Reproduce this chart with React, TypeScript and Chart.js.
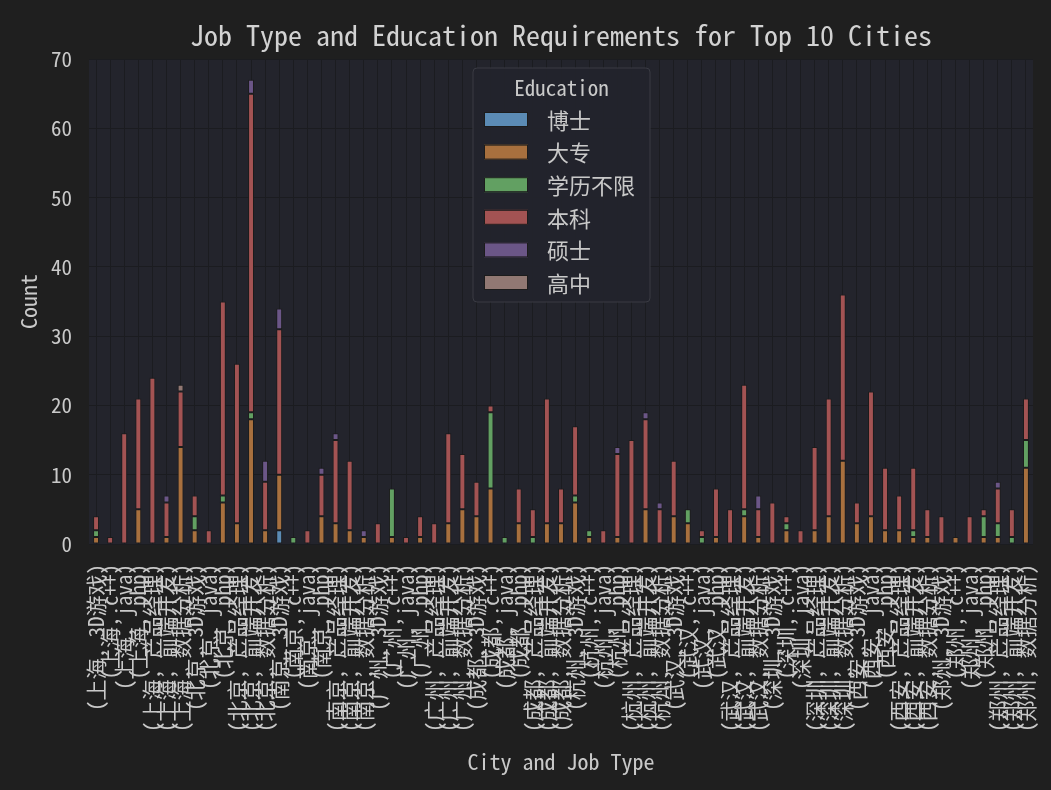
import React, { useEffect, useRef } from 'react';
import { Chart, registerables } from 'chart.js';

Chart.register(...registerables);

const FONT = "'Noto Sans Mono CJK SC', 'DejaVu Sans Mono', monospace";
const TEXT = '#c9c9c9';
const GRID = '#1b1c20';
const PAGE_BG = '#1f1f1f';
const PLOT_BG = '#23242c';

// (city, job type) pairs, 67 bars
const categories = [
  '(上海, 3D游戏)', '(上海, c++)', '(上海, java)', '(上海, php)', '(上海, 产品经理)', '(上海, 前端开发)', '(上海, 数据分析)',
  '(北京, 3D游戏)', '(北京, java)', '(北京, php)', '(北京, 产品经理)', '(北京, 前端开发)', '(北京, 数据分析)',
  '(南京, 3D游戏)', '(南京, c++)', '(南京, java)', '(南京, php)', '(南京, 产品经理)', '(南京, 前端开发)', '(南京, 数据分析)',
  '(广州, 3D游戏)', '(广州, c++)', '(广州, java)', '(广州, php)', '(广州, 产品经理)', '(广州, 前端开发)', '(广州, 数据分析)',
  '(成都, 3D游戏)', '(成都, c++)', '(成都, java)', '(成都, php)', '(成都, 产品经理)', '(成都, 前端开发)', '(成都, 数据分析)',
  '(杭州, 3D游戏)', '(杭州, c++)', '(杭州, java)', '(杭州, php)', '(杭州, 产品经理)', '(杭州, 前端开发)', '(杭州, 数据分析)',
  '(武汉, 3D游戏)', '(武汉, c++)', '(武汉, java)', '(武汉, php)', '(武汉, 产品经理)', '(武汉, 前端开发)', '(武汉, 数据分析)',
  '(深圳, 3D游戏)', '(深圳, c++)', '(深圳, java)', '(深圳, 产品经理)', '(深圳, 前端开发)', '(深圳, 数据分析)',
  '(西安, 3D游戏)', '(西安, java)', '(西安, php)', '(西安, 产品经理)', '(西安, 前端开发)', '(西安, 数据分析)',
  '(郑州, 3D游戏)', '(郑州, c++)', '(郑州, java)', '(郑州, php)', '(郑州, 产品经理)', '(郑州, 前端开发)', '(郑州, 数据分析)',
];

const educationLevels = ['博士', '大专', '学历不限', '本科', '硕士', '高中'];
const educationColors = ['#5b8bb5', '#a8703e', '#62a062', '#a35353', '#6b5687', '#917873'];

const doctor = [
  0, 0, 0, 0, 0, 0, 0,  0, 0, 0, 0, 0, 0,  2, 0, 0, 0, 0, 0, 0,  0, 0, 0, 0, 0, 0, 0,
  0, 0, 0, 0, 0, 0, 0,  0, 0, 0, 0, 0, 0, 0,  0, 0, 0, 0, 0, 0, 0,  0, 0, 0, 0, 0, 0,
  0, 0, 0, 0, 0, 0,  0, 0, 0, 0, 0, 0, 0,
];
const college = [
  1, 0, 0, 5, 0, 1, 14,  2, 0, 6, 3, 18, 2,  8, 0, 0, 4, 3, 2, 1,  0, 1, 0, 1, 0, 3, 5,
  4, 8, 0, 3, 0, 3, 3,  6, 1, 0, 1, 0, 5, 0,  4, 3, 0, 1, 0, 4, 1,  0, 2, 0, 2, 4, 12,
  3, 4, 2, 2, 1, 1,  0, 1, 0, 1, 1, 0, 11,
];
const anyDegree = [
  1, 0, 0, 0, 0, 0, 0,  2, 0, 1, 0, 1, 0,  0, 1, 0, 0, 0, 0, 0,  0, 7, 0, 0, 0, 0, 0,
  0, 11, 1, 0, 1, 0, 0,  1, 1, 0, 0, 0, 0, 0,  0, 2, 1, 0, 0, 1, 0,  0, 1, 0, 0, 0, 0,
  0, 0, 0, 0, 1, 0,  0, 0, 0, 3, 2, 1, 4,
];
const bachelor = [
  2, 1, 16, 16, 24, 5, 8,  3, 2, 28, 23, 46, 7,  21, 0, 2, 6, 12, 10, 0,  3, 0, 1, 3, 3, 13, 8,
  5, 1, 0, 5, 4, 18, 5,  10, 0, 2, 12, 15, 13, 5,  8, 0, 1, 7, 5, 18, 4,  6, 1, 2, 12, 17, 24,
  3, 18, 9, 5, 9, 4,  4, 0, 4, 1, 5, 4, 6,
];
const master = [
  0, 0, 0, 0, 0, 1, 0,  0, 0, 0, 0, 2, 3,  3, 0, 0, 1, 1, 0, 1,  0, 0, 0, 0, 0, 0, 0,
  0, 0, 0, 0, 0, 0, 0,  0, 0, 0, 1, 0, 1, 1,  0, 0, 0, 0, 0, 0, 2,  0, 0, 0, 0, 0, 0,
  0, 0, 0, 0, 0, 0,  0, 0, 0, 0, 1, 0, 0,
];
const highSchool = [
  0, 0, 0, 0, 0, 0, 1,  0, 0, 0, 0, 0, 0,  0, 0, 0, 0, 0, 0, 0,  0, 0, 0, 0, 0, 0, 0,
  0, 0, 0, 0, 0, 0, 0,  0, 0, 0, 0, 0, 0, 0,  0, 0, 0, 0, 0, 0, 0,  0, 0, 0, 0, 0, 0,
  0, 0, 0, 0, 0, 0,  0, 0, 0, 0, 0, 0, 0,
];
const seriesValues = [doctor, college, anyDegree, bachelor, master, highSchool];

const yTicks = [0, 10, 20, 30, 40, 50, 60, 70];

// background, title and the boxed legend
const decorPlugin = {
  id: 'decor',
  beforeDraw(chart: Chart) {
    const { ctx, chartArea } = chart;
    ctx.save();
    ctx.fillStyle = PAGE_BG;
    ctx.fillRect(0, 0, chart.width, chart.height);
    ctx.fillStyle = PLOT_BG;
    ctx.fillRect(chartArea.left, chartArea.top, chartArea.right - chartArea.left, chartArea.bottom - chartArea.top);
    ctx.restore();
  },
  afterDraw(chart: Chart) {
    const { ctx, chartArea } = chart;
    const cx = (chartArea.left + chartArea.right) / 2;
    ctx.save();
    ctx.fillStyle = '#d2d2d2';
    ctx.font = `28px ${FONT}`;
    ctx.textAlign = 'center';
    ctx.textBaseline = 'middle';
    ctx.fillText('Job Type and Education Requirements for Top 10 Cities', cx, 35);

    // legend box
    const bx = 473, by = 68, bw = 177, bh = 234;
    ctx.beginPath();
    ctx.roundRect(bx, by, bw, bh, 4);
    ctx.fillStyle = 'rgba(35, 36, 44, 0.92)';
    ctx.fill();
    ctx.strokeStyle = '#3a3b43';
    ctx.lineWidth = 1;
    ctx.stroke();

    ctx.fillStyle = TEXT;
    ctx.font = `21px ${FONT}`;
    ctx.textAlign = 'center';
    ctx.fillText('Education', bx + bw / 2, 88);

    ctx.textAlign = 'left';
    ctx.font = `22px ${FONT}`;
    educationLevels.forEach((name, i) => {
      const y = 119.5 + i * 32.6;
      ctx.fillStyle = educationColors[i];
      ctx.fillRect(484, y - 7.5, 44, 15);
      ctx.strokeStyle = '#1c1c1c';
      ctx.strokeRect(484.5, y - 7, 43, 14);
      ctx.fillStyle = TEXT;
      ctx.fillText(name, 547, y + 1);
    });
    ctx.restore();
  },
};

export default function App() {
  const chartRef = useRef<HTMLCanvasElement | null>(null);
  const chartInstance = useRef<Chart | null>(null);

  useEffect(() => {
    document.body.style.margin = '0';
    document.body.style.background = PAGE_BG;
    if (!chartRef.current) return;

    chartInstance.current = new Chart(chartRef.current, {
      type: 'bar',
      data: {
        labels: categories,
        datasets: educationLevels.map((name, i) => ({
          label: name,
          // zero-height segments would still draw an edge, so skip them
          data: seriesValues[i].map(v => (v === 0 ? null : v)),
          backgroundColor: educationColors[i],
          borderColor: '#1c1c1c',
          borderWidth: 1,
          borderSkipped: false,
          barPercentage: 0.42,
          categoryPercentage: 1,
        })),
      },
      options: {
        responsive: false,
        animation: false,
        devicePixelRatio: 1,
        layout: { padding: { top: 59, right: 18, left: 0, bottom: 0 } },
        plugins: {
          legend: { display: false },
          tooltip: { enabled: false },
          title: { display: false },
        },
        scales: {
          x: {
            stacked: true,
            grid: { color: GRID, offset: false, drawTicks: false },
            border: { display: false },
            ticks: {
              autoSkip: false,
              minRotation: 90,
              maxRotation: 90,
              color: TEXT,
              padding: 20,
              font: { family: FONT, size: 21 },
            },
            title: {
              display: true,
              text: 'City and Job Type',
              color: TEXT,
              font: { family: FONT, size: 22 },
              padding: { top: 0, bottom: 15 },
            },
            afterFit: (scale: any) => {
              scale.height = 246;
              scale.paddingLeft = 0;
              scale.paddingRight = 0;
            },
          },
          y: {
            stacked: true,
            min: 0,
            max: 70,
            afterBuildTicks: (scale: any) => {
              scale.ticks = yTicks.map(v => ({ value: v }));
            },
            grid: { color: GRID, drawTicks: false },
            border: { display: false },
            ticks: {
              color: TEXT,
              padding: 17,
              font: { family: FONT, size: 21 },
            },
            title: {
              display: true,
              text: 'Count',
              color: TEXT,
              font: { family: FONT, size: 22 },
              padding: { top: 15, bottom: 0 },
            },
            afterFit: (scale: any) => {
              scale.width = 89;
              scale.paddingTop = 0;
              scale.paddingBottom = 0;
            },
          },
        },
      },
      plugins: [decorPlugin],
    });

    return () => {
      if (chartInstance.current) {
        chartInstance.current.destroy();
        chartInstance.current = null;
      }
    };
  }, []);

  return (
    <div style={{ width: 1051, height: 790, background: PAGE_BG }}>
      <canvas ref={chartRef} width={1051} height={790} style={{ display: 'block' }}></canvas>
    </div>
  );
}
